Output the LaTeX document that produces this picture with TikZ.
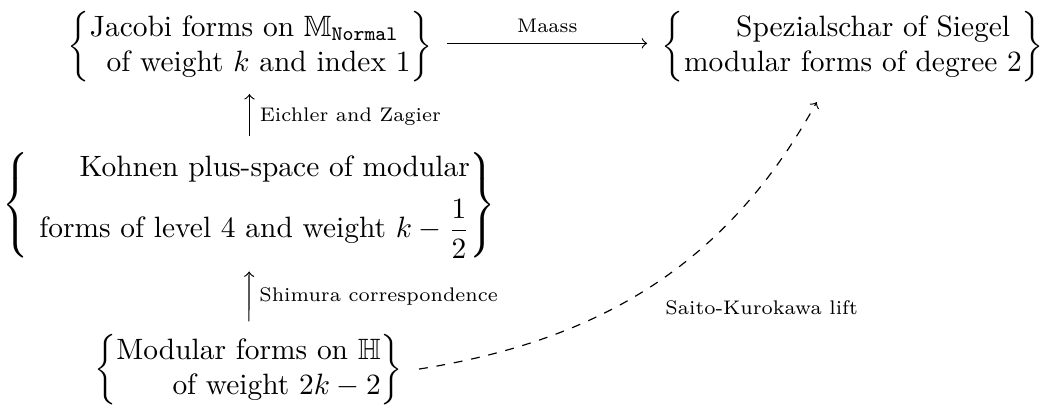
\documentclass[tikz,border=0pt]{standalone}
\usepackage{amsmath,amssymb}
\begin{document}
\begin{tikzpicture}[lbl/.style={font=\fontsize{6.7}{8}\selectfont}]
    \useasboundingbox (0,0) rectangle (12.52,-4.87);

    \node (jac) at (2.99,-0.56) {$\left\{\begin{array}{@{}r@{}}\text{Jacobi forms on }\mathbb{M}_{\texttt{Normal}}\hspace{4pt}\\ \text{of weight }k\text{ and index }1\end{array}\right\}$};
    \node (sie) at (10.19,-0.56) {$\left\{\begin{array}{@{}r@{}}\text{Spezialschar of Siegel}\hspace{4pt}\\ \text{modular forms of degree }2\end{array}\right\}$};
    \node (koh) at (2.98,-2.45) {$\left\{\begin{array}{@{\hspace{3.5pt}}r@{}}\text{Kohnen plus-space of modular}\\[4pt] \text{forms of level }4\text{ and weight }k-\dfrac{1}{2}\end{array}\right\}$};
    \node (mod) at (2.97,-4.42) {$\left\{\begin{array}{@{}r@{}}\text{Modular forms on }\mathbb{H}\\ \text{of weight }2k-2\end{array}\right\}$};

    \draw [->,shorten <=1.5pt,shorten >=1.5pt] ([yshift=1.2pt]jac.east) -- ([yshift=1.2pt]sie.west) node [midway,above,lbl] {Maass};
    \draw [->,shorten <=2pt,shorten >=0.5pt] (koh) -- (koh |- jac.south) node [midway,right,lbl] {Eichler and Zagier};
    \draw [->,shorten <=1pt,shorten >=1pt] (mod) -- (koh) node [midway,right,lbl] {Shimura correspondence};
    \draw [->,dashed,shorten <=2pt,shorten >=3.7pt] (mod.east) to [out=9,in=241] ([xshift=-0.37cm]sie.south);
    \node [lbl] (skl) at (9.10,-3.68) {Saito-Kurokawa lift};

\end{tikzpicture}
\end{document}
